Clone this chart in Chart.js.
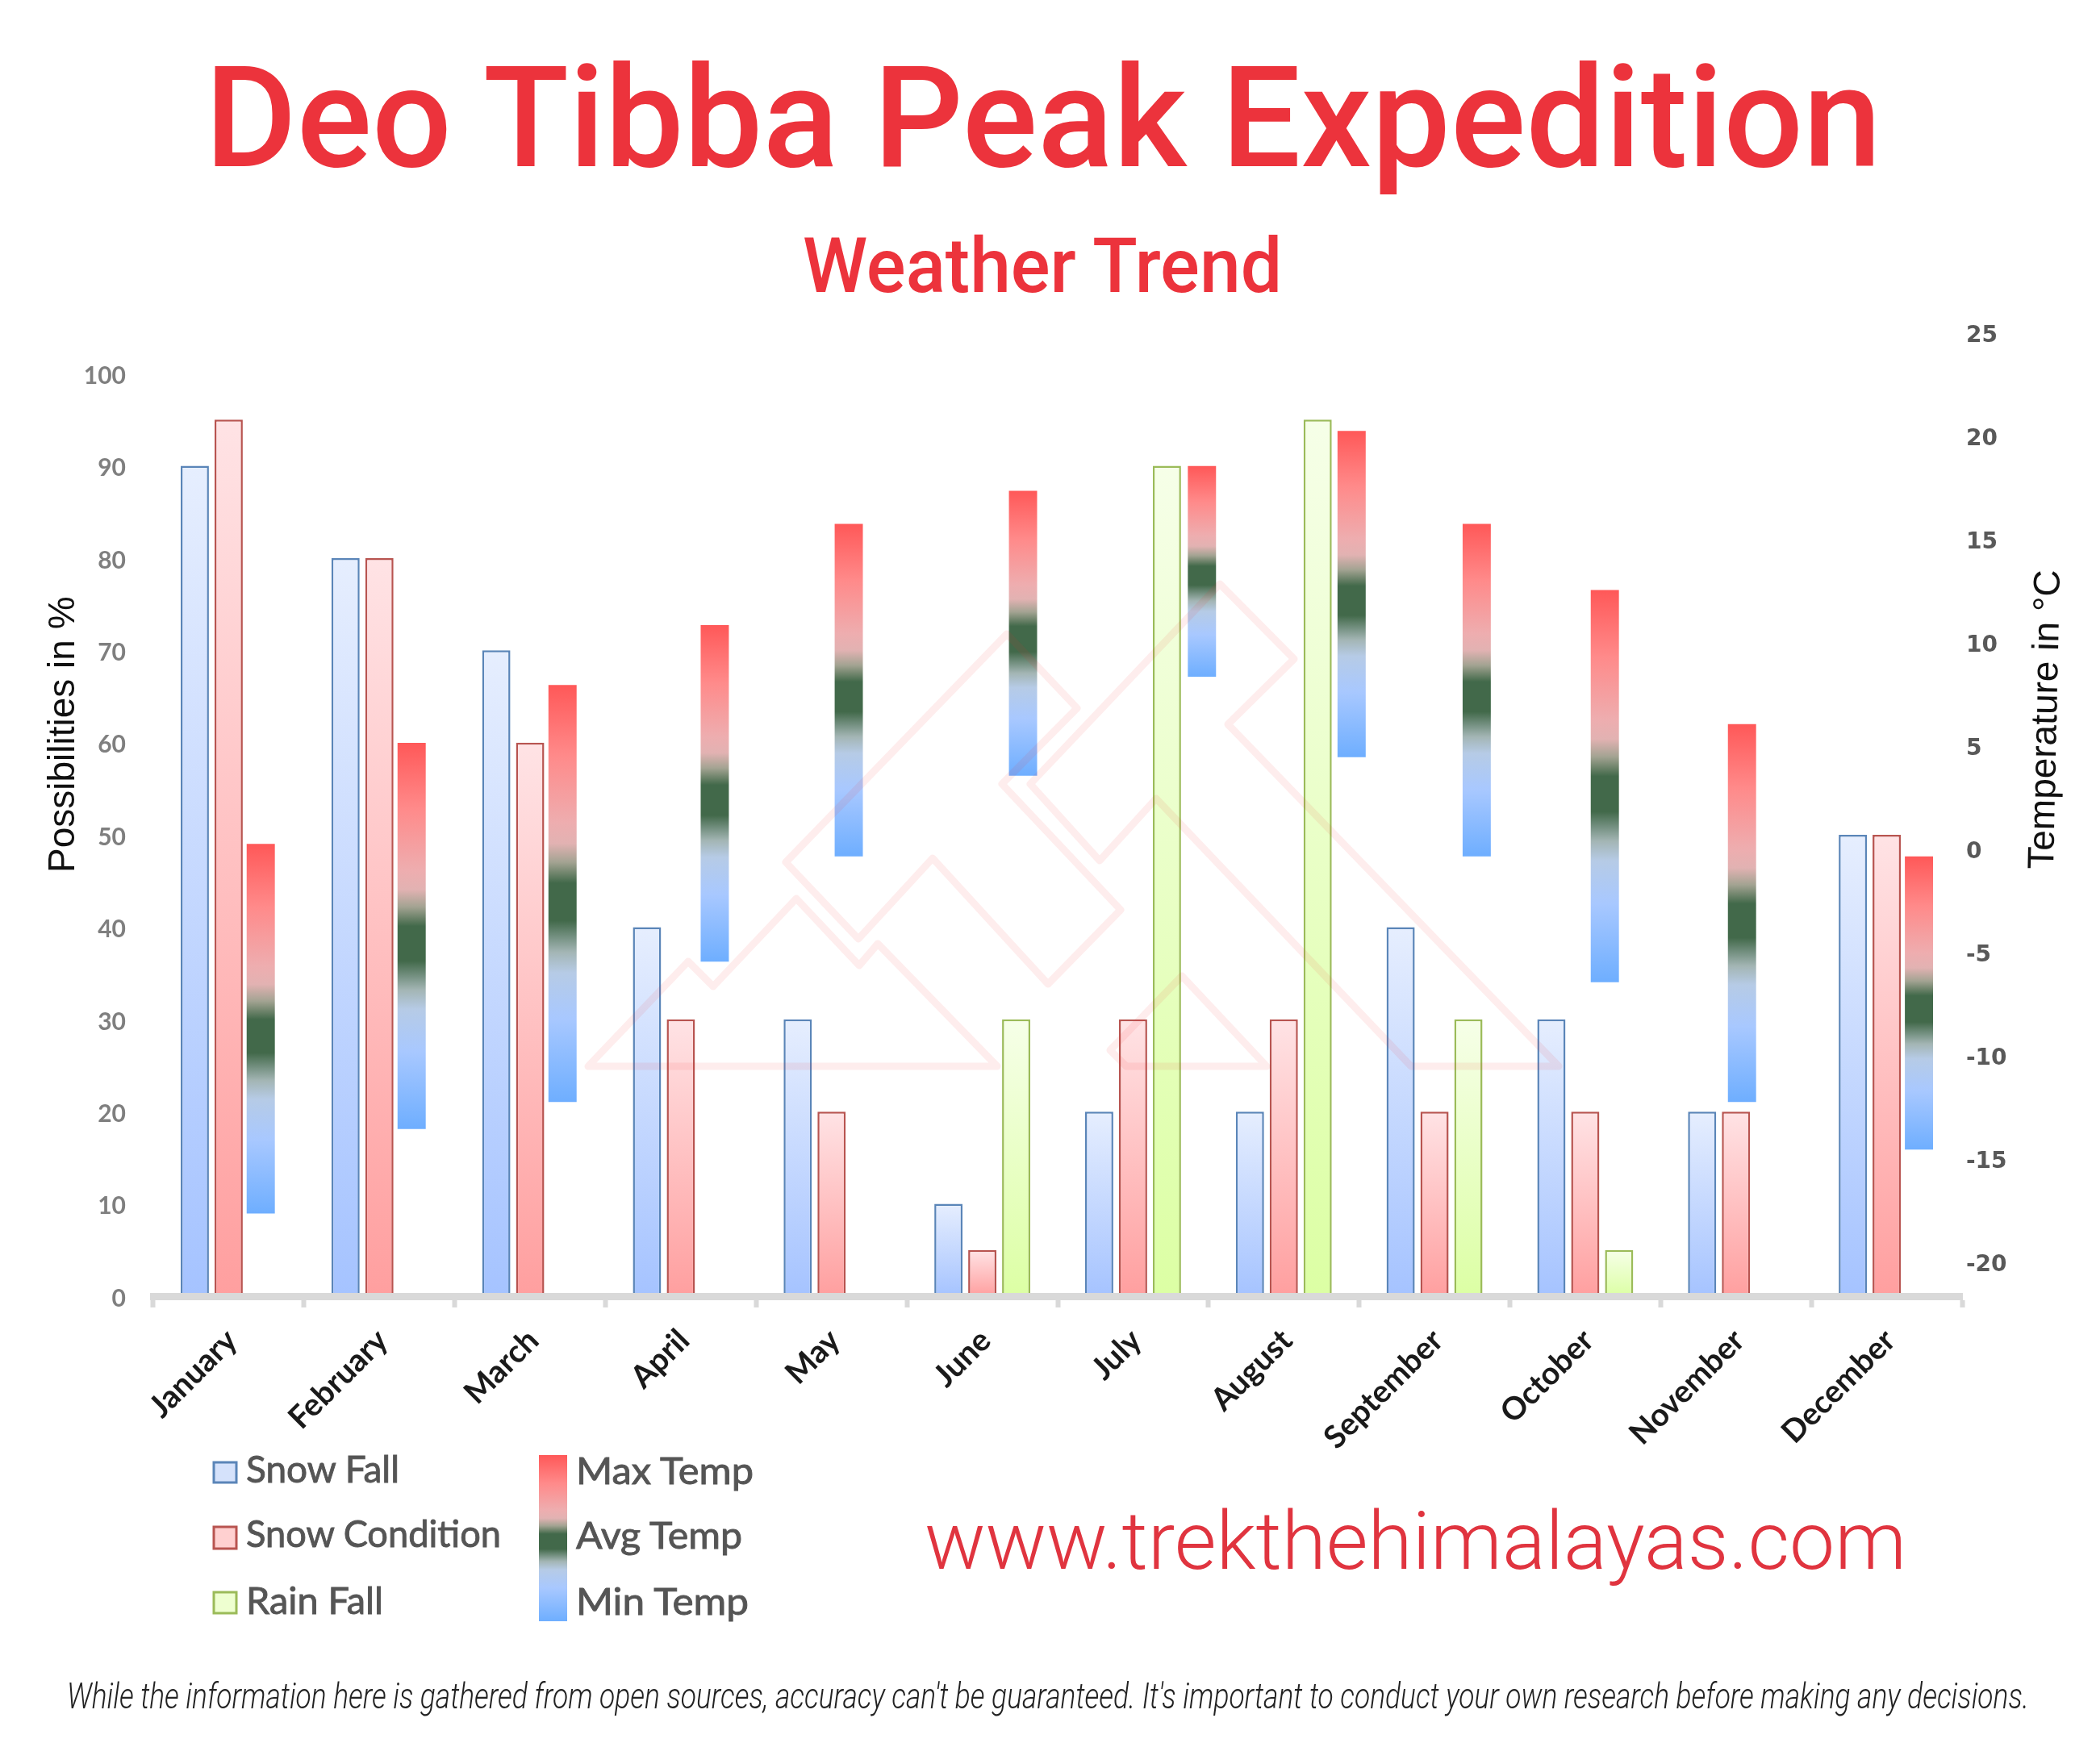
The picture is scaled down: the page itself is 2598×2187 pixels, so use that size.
<!DOCTYPE html>
<html>
<head>
<meta charset="utf-8">
<title>Deo Tibba Peak Expedition</title>
<script src="https://cdn.jsdelivr.net/npm/chart.js@4"></script>
<style>
  html, body { margin: 0; background: #fff; }
  #wrap { position: relative; width: 2598px; height: 2187px; overflow: hidden; }
  canvas, svg { position: absolute; left: 0; top: 0; }
  svg { pointer-events: none; }
  .red { fill: #ec333c; font-family: Roboto, sans-serif; font-weight: 500; }
  .axis-title { font-family: "Liberation Sans", Arial, sans-serif; font-size: 46px; fill: #111; }
  .legend { font-family: Lato, sans-serif; font-weight: 400; font-size: 47px; fill: #555; stroke: #555; stroke-width: 0.9; }
  .mark { fill: none; stroke: rgba(240, 50, 50, 0.085); stroke-width: 9; stroke-linejoin: round; }
</style>
</head>
<body>
<div id="wrap">
  <canvas id="weatherChart" width="2598" height="2187"></canvas>
  <svg width="2598" height="2187" viewBox="0 0 2598 2187">
    <!-- faint logo over the plot -->
    <polygon class="mark" points="729,1322 853,1192 884,1223 987,1114 1065,1197 1088,1170 1236,1322"/>
    <polygon class="mark" points="974,1069 1248,786 1335,878 1242,972 1389,1128 1299,1220 1156,1064 1064,1164"/>
    <polygon class="mark" points="1277,972 1512,724 1604,817 1522,898 1932,1322 1749,1322 1433,990 1363,1067"/>
    <polygon class="mark" points="1376,1302 1465,1210 1570,1322 1396,1322"/>

    <text class="red" x="254" y="206" font-size="174" textLength="2078" lengthAdjust="spacingAndGlyphs">Deo Tibba Peak Expedition</text>
    <text class="red" x="995" y="362" font-size="94" textLength="594" lengthAdjust="spacingAndGlyphs">Weather Trend</text>

    <text class="axis-title" transform="translate(92 1082) rotate(-90)">Possibilities in %</text>
    <text class="axis-title" transform="translate(2545 1078) rotate(-88.75)">Temperature in °C</text>

    <rect x="265" y="1813" width="28" height="25" fill="#d5e2fb" stroke="#5a85b8" stroke-width="3"/>
    <rect x="265" y="1893" width="28" height="27" fill="#ffd0d0" stroke="#b85450" stroke-width="3"/>
    <rect x="265" y="1974" width="28" height="26" fill="#eeffd0" stroke="#9bbb59" stroke-width="3"/>
    <text class="legend" x="305" y="1838" textLength="190" lengthAdjust="spacingAndGlyphs">Snow Fall</text>
    <text class="legend" x="305" y="1918" textLength="316" lengthAdjust="spacingAndGlyphs">Snow Condition</text>
    <text class="legend" x="305" y="2001" textLength="170" lengthAdjust="spacingAndGlyphs">Rain Fall</text>

    <defs><linearGradient id="tempLegend" x1="0" y1="0" x2="0" y2="1"></linearGradient></defs>
    <rect x="668" y="1804" width="35" height="206" fill="url(#tempLegend)"/>
    <text class="legend" x="714" y="1840" textLength="220" lengthAdjust="spacingAndGlyphs">Max Temp</text>
    <text class="legend" x="714" y="1920" textLength="206" lengthAdjust="spacingAndGlyphs">Avg Temp</text>
    <text class="legend" x="714" y="2002" textLength="214" lengthAdjust="spacingAndGlyphs">Min Temp</text>

    <text x="1146" y="1945" font-family="Roboto, sans-serif" font-weight="300" font-size="100" fill="#e0343f" textLength="1217" lengthAdjust="spacingAndGlyphs">www.trekthehimalayas.com</text>
    <text x="83" y="2118" font-family="Roboto, sans-serif" font-weight="300" font-style="italic" font-size="45" fill="#222" textLength="2432" lengthAdjust="spacingAndGlyphs">While the information here is gathered from open sources, accuracy can't be guaranteed. It's important to conduct your own research before making any decisions.</text>
  </svg>
</div>

<script>
const months = ['January', 'February', 'March', 'April', 'May', 'June', 'July', 'August', 'September', 'October', 'November', 'December'];
const snowFall = [90, 80, 70, 40, 30, 10, 20, 20, 40, 30, 20, 50];
const snowCondition = [95, 80, 60, 30, 20, 5, 30, 30, 20, 20, 20, 50];
const rainFall = [null, null, null, null, null, 30, 90, 95, 30, 5, null, null];
const tempMax = [0.3, 5.2, 8, 10.9, 15.8, 17.4, 18.6, 20.3, 15.8, 12.6, 6.1, -0.3];
const tempMin = [-17.6, -13.5, -12.2, -5.4, -0.3, 3.6, 8.4, 4.5, -0.3, -6.4, -12.2, -14.5];
const percentTicks = [0, 10, 20, 30, 40, 50, 60, 70, 80, 90, 100];
const tempTicks = [-20, -15, -10, -5, 0, 5, 10, 15, 20, 25];

// The temperature bars do not sit in a fixed slot of their month: how far each one
// is off its month's centre, as a part of one month on the x scale
const tempShift = [0.213, 0.214, 0.215, 0.225, 0.114, 0.27, 0.457, 0.45, 0.28, 0.13, 0.04, 0.214];

const tempStops = [
    [0, '#ff5858'], [0.17, '#ff8a8a'], [0.33, '#eeadaf'], [0.38, '#e2b2b2'], [0.425, '#a3a392'],
    [0.475, '#42694a'], [0.565, '#42694a'], [0.64, '#a3b5b4'], [0.69, '#b6cbe6'], [0.8, '#a8c8ff'], [1, '#6eaeff']
];

// same stops for the legend strip
const stripGrad = document.getElementById('tempLegend');
tempStops.forEach(([at, colour]) => {
    const stop = document.createElementNS('http://www.w3.org/2000/svg', 'stop');
    stop.setAttribute('offset', at);
    stop.setAttribute('stop-color', colour);
    stripGrad.appendChild(stop);
});

// Elements get resolved once before layout, when the scales have no pixels yet
function gradient(chart, y0, y1, stops) {
    if (!isFinite(y0) || !isFinite(y1)) return 'transparent';
    const g = chart.ctx.createLinearGradient(0, y0, 0, y1);
    stops.forEach(([at, colour]) => g.addColorStop(at, colour));
    return g;
}

function barFill(top, bottom) {
    return (c) => {
        if (c.raw === null || c.raw === undefined) return 'transparent';
        const scale = c.chart.scales.y;
        return gradient(c.chart, scale.getPixelForValue(c.raw), scale.getPixelForValue(0), [[0, top], [1, bottom]]);
    };
}

function tempFill(c) {
    if (!c.raw) return 'transparent';
    const scale = c.chart.scales.y1;
    return gradient(c.chart, scale.getPixelForValue(c.raw[1]), scale.getPixelForValue(c.raw[0]), tempStops);
}

const shiftTempBars = {
    id: 'shiftTempBars',
    afterDatasetsUpdate(chart) {
        const meta = chart.getDatasetMeta(3);
        meta.data.forEach((bar, i) => {
            bar.x = chart.scales.x.getPixelForValue(i + tempShift[i]);
        });
    }
};

new Chart(document.getElementById('weatherChart'), {
    type: 'bar',
    plugins: [shiftTempBars],
    data: {
        labels: months,
        datasets: [
            { label: 'Snow Fall', data: snowFall, backgroundColor: barFill('#e6eefe', '#a5c3ff'), borderColor: '#5a85b8', borderWidth: 2.5 },
            { label: 'Snow Condition', data: snowCondition, backgroundColor: barFill('#ffe3e5', '#ff9f9f'), borderColor: '#b85450', borderWidth: 2.5 },
            { label: 'Rain Fall', data: rainFall, backgroundColor: barFill('#f6ffe8', '#dcffa4'), borderColor: '#9bbb59', borderWidth: 2.5 },
            {
                label: 'Temperature',
                data: months.map((m, i) => [tempMin[i], tempMax[i]]),
                yAxisID: 'y1',
                grouped: false,
                categoryPercentage: 0.187,
                barPercentage: 1,
                backgroundColor: tempFill,
                borderWidth: 0
            }
        ]
    },
    options: {
        responsive: false,
        animation: false,
        devicePixelRatio: 1,
        categoryPercentage: 0.674,
        barPercentage: 0.833,
        layout: { padding: { top: 414, left: 0, right: 0, bottom: 0 } },
        plugins: { legend: { display: false }, tooltip: { enabled: false } },
        scales: {
            x: {
                grid: { drawOnChartArea: false, drawTicks: true, tickLength: 14, tickWidth: 6, tickColor: '#d9d9d9' },
                border: { color: '#d9d9d9', width: 9, z: 1 },
                ticks: {
                    autoSkip: false, minRotation: 45, maxRotation: 45, padding: 18, labelOffset: 4,
                    color: '#1a1a1a', font: { family: 'Lato', size: 39, weight: '700' }
                },
                afterFit(s) { s.height = 580; s.paddingLeft = 0; s.paddingRight = 0; }
            },
            y: {
                min: 0,
                max: 104.3,
                grid: { display: false, drawTicks: false },
                border: { display: false },
                ticks: { color: '#7f7f7f', font: { family: 'Lato', size: 30, weight: '700' }, padding: 34, labelOffset: 3 },
                afterBuildTicks(s) { s.ticks = percentTicks.map(v => ({ value: v })); },
                afterFit(s) { s.width = 190; s.paddingTop = 0; s.paddingBottom = 0; }
            },
            y1: {
                position: 'right',
                min: -21.6,
                max: 25,
                grid: { display: false, drawTicks: false },
                border: { display: false },
                ticks: { color: '#595959', font: { family: 'DejaVu Sans', size: 28, weight: '700' }, padding: 5, labelOffset: 3 },
                afterBuildTicks(s) { s.ticks = tempTicks.map(v => ({ value: v })); },
                afterFit(s) { s.width = 166; s.paddingTop = 0; s.paddingBottom = 0; }
            }
        }
    }
});
</script>
</body>
</html>
